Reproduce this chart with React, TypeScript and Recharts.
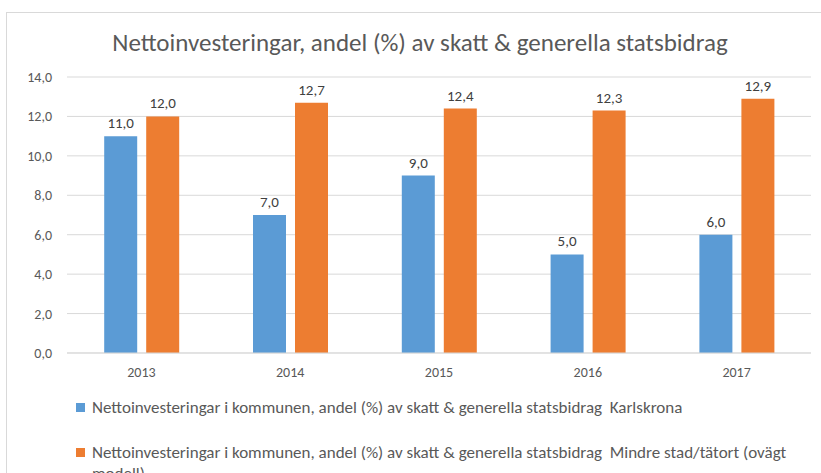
import React from "react";
import { BarChart, Bar, XAxis, YAxis, CartesianGrid, LabelList } from "recharts";

const years = ["2013", "2014", "2015", "2016", "2017"];
const karlskrona = [11.0, 7.0, 9.0, 5.0, 6.0];
const mindreStad = [12.0, 12.7, 12.4, 12.3, 12.9];
const yTicks = [0, 2, 4, 6, 8, 10, 12, 14];

const seriesA = "Nettoinvesteringar i kommunen, andel (%) av skatt & generella statsbidrag  Karlskrona";
const seriesB = "Nettoinvesteringar i kommunen, andel (%) av skatt & generella statsbidrag  Mindre stad/tätort (ovägt modell)";
const title = "Nettoinvesteringar, andel (%) av skatt & generella statsbidrag";

const COLORS = ["#5B9BD5", "#ED7D31"];
const data = years.map((y, i) => ({ year: y, a: karlskrona[i], b: mindreStad[i] }));
const legendItems = [
  { name: seriesA, color: COLORS[0] },
  { name: seriesB, color: COLORS[1] },
];

const FONT = "Carlito, Lato, 'Liberation Sans', sans-serif";
const fmt = (v: any) => Number(v).toFixed(1).replace(".", ",");

export default function App() {
  return (
    <div style={{ position: "fixed", left: 0, top: 0, width: 821, height: 473, overflow: "hidden", background: "#fff" }}>
      <div style={{ position: "absolute", left: 6, top: 12, width: 900, height: 600, border: "1px solid #d9d9d9", boxSizing: "border-box" }} />
      <div style={{ position: "absolute", left: 0, top: 28, width: 840, textAlign: "center", fontFamily: FONT, fontSize: 25, color: "#595959", whiteSpace: "nowrap", lineHeight: "30px" }}>
        {title}
      </div>
      <div style={{ position: "absolute", left: 0, top: 0 }}>
        <BarChart width={821} height={473} data={data} margin={{ top: 77, right: 10, bottom: 90, left: 0 }} barCategoryGap="25%" barGap={9}>
          <CartesianGrid horizontal={true} vertical={false} stroke="#d9d9d9" />
          <XAxis dataKey="year" axisLine={{ stroke: "#d9d9d9" }} tickLine={false} tickSize={6} tickMargin={8} tick={{ fill: "#595959", fontSize: 14, fontFamily: FONT }} />
          <YAxis width={67} domain={[0, 14]} ticks={yTicks} axisLine={false} tickLine={false} tickSize={6} tickMargin={9} tickFormatter={fmt} tick={{ fill: "#595959", fontSize: 14, fontFamily: FONT }} />
          <Bar dataKey="a" name={seriesA} fill={COLORS[0]} isAnimationActive={false}>
            <LabelList dataKey="a" position="top" offset={8} formatter={fmt} style={{ fill: "#404040", fontSize: 15, fontFamily: FONT }} />
          </Bar>
          <Bar dataKey="b" name={seriesB} fill={COLORS[1]} isAnimationActive={false}>
            <LabelList dataKey="b" position="top" offset={8} formatter={fmt} style={{ fill: "#404040", fontSize: 15, fontFamily: FONT }} />
          </Bar>
        </BarChart>
      </div>
      <div style={{ position: "absolute", top: 397, left: 76, width: 740, fontFamily: FONT }}>
        {legendItems.map((p, i) => (
          <div key={i} style={{ display: "flex", alignItems: "flex-start", marginBottom: 24 }}>
            <div style={{ width: 9, height: 9, background: p.color, marginTop: 6, marginRight: 7, flex: "none" }} />
            <div style={{ fontSize: 17, color: "#595959", lineHeight: "21px", maxWidth: 700, whiteSpace: "pre-wrap" }}>{p.name}</div>
          </div>
        ))}
      </div>
    </div>
  );
}
